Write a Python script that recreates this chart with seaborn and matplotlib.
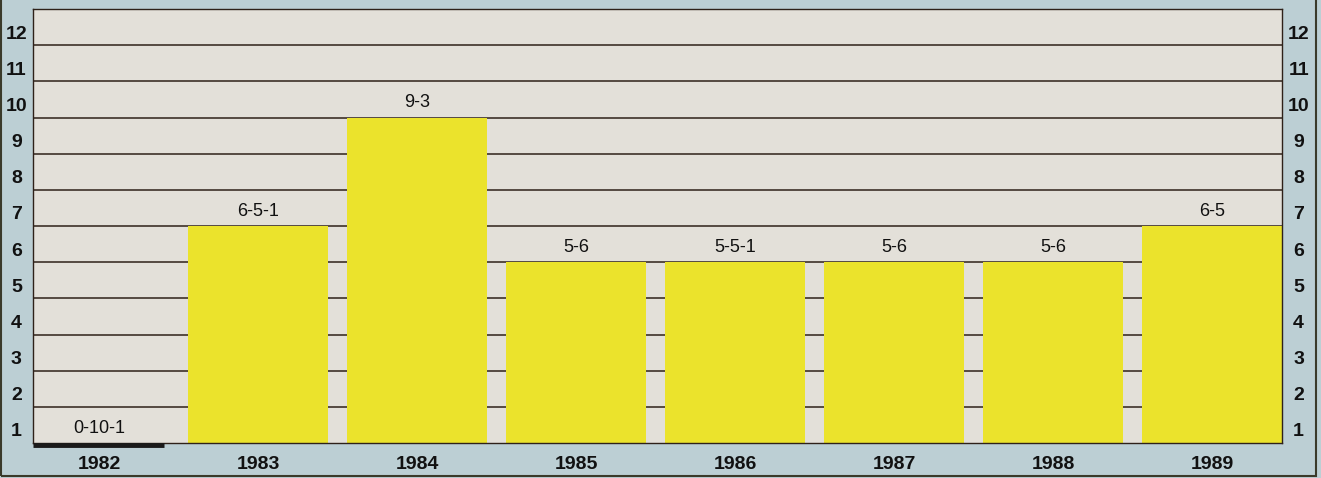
import matplotlib
matplotlib.use("Agg")
import matplotlib.pyplot as plt
import seaborn as sns
import pandas as pd
from matplotlib.ticker import FixedLocator
from matplotlib.patches import Rectangle

years = ["1982", "1983", "1984", "1985", "1986", "1987", "1988", "1989"]
wins = [0, 6, 9, 5, 5, 5, 5, 6]
records = ["0-10-1", "6-5-1", "9-3", "5-6", "5-5-1", "5-6", "5-6", "6-5"]
y_labels = [str(i) for i in range(1, 13)]

sns.set_theme(style="white")
plt.rcParams["font.family"] = ["Liberation Sans", "DejaVu Sans"]

bg = "#bccfd4"
plot_bg = "#e3e0d9"
bar_col = "#ebe32c"
ink = "#2e2119"

df = pd.DataFrame({"year": years, "wins": wins})

fig = plt.figure(figsize=(13.21, 4.78), dpi=100, facecolor=bg)
ax = fig.add_axes([33 / 1321, 35 / 478, (1282 - 33) / 1321, (443 - 9) / 478])
ax.set_facecolor(plot_bg)

sns.barplot(data=df, x="year", y="wins", color=bar_col, saturation=1,
            width=0.88, ax=ax, zorder=2, edgecolor="none")

ax.set_xlim(-0.415, 7.44)
ax.set_ylim(0, 12)

# grid at each whole number, behind the bars
ax.yaxis.set_minor_locator(FixedLocator(range(1, 12)))
ax.grid(which="minor", axis="y", color=ink, linewidth=1.1, zorder=1)
ax.grid(which="major", visible=False)
ax.set_axisbelow(True)

# number labels sit in the band under each line
ax.set_yticks([k - 0.64 for k in range(1, 13)])
ax.set_yticklabels(y_labels)
ax.tick_params(axis="y", which="both", length=0, pad=12, labelsize=14,
               labelleft=True, labelright=True)
for t in ax.yaxis.get_major_ticks():
    for lab in (t.label1, t.label2):
        lab.set_horizontalalignment("center")
        lab.set_fontweight("bold")
        lab.set_color("#111111")

ax.tick_params(axis="x", length=0, pad=9.5, labelsize=14, labelcolor="#111111")
for lab in ax.get_xticklabels():
    lab.set_fontweight("bold")
ax.set_xlabel("")
ax.set_ylabel("")

for s in ax.spines.values():
    s.set_visible(True)
    s.set_color(ink)
    s.set_linewidth(1.0)

# record labels above bars, thick base line for the empty season
for patch, rec, w in zip(ax.patches, records, wins):
    cx = patch.get_x() + patch.get_width() / 2
    ax.annotate(rec, (cx, w), xytext=(0, 4.5), textcoords="offset points",
                ha="center", va="bottom", fontsize=13, color="#111111")
    if w == 0:
        ax.plot([ax.get_xlim()[0], patch.get_x() + patch.get_width() - 0.03],
                [-0.06, -0.06], color="#1a1a1a", lw=3.5,
                solid_capstyle="butt", clip_on=False, zorder=5)

# outer border of the graphic
fig.patches.append(Rectangle((0.001, 0.005), 0.995, 1.2, transform=fig.transFigure,
                             fill=False, edgecolor="#3a3a2a", linewidth=1.5))

fig.savefig("out.png", dpi=100, facecolor=bg)
